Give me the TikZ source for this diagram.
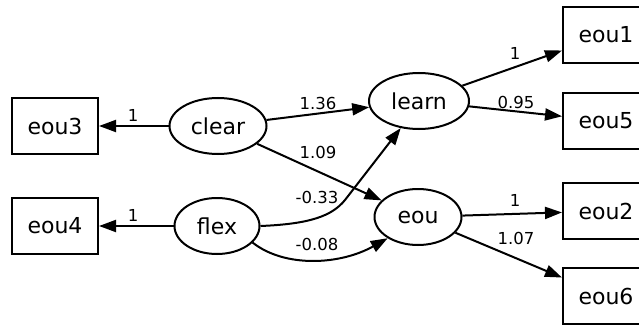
\documentclass[tikz,border=0pt]{standalone}
\usepackage{fontspec}
\setmainfont{DejaVu Sans}
\usetikzlibrary{shapes.geometric,arrows.meta}
\begin{document}
\begin{tikzpicture}[x=1pt,y=-1pt,
 every node/.style={font=\fontsize{22}{24}\selectfont},
 obs/.style={draw, line width=2pt, rectangle, minimum width=86pt, minimum height=56pt, inner sep=0pt},
 lat/.style={draw, line width=2pt, ellipse, minimum height=56pt, inner sep=0pt},
 conn/.style={line width=2pt, -{Triangle[length=17pt,width=12pt]}},
 lbl/.style={font=\fontsize{16.5}{18}\selectfont, inner sep=0pt}]
\useasboundingbox (0,0) rectangle (639,326);
\clip (0,0) rectangle (639,326);
% nodes
\node[obs] (eou3) at (55,126) {eou3};
\node[obs] (eou4) at (55,226) {eou4};
\node[lat, minimum width=97pt] (clear) at (218,126) {clear};
\node[lat, minimum width=85pt] (flex) at (217,226) {flex};
\node[lat, minimum width=100pt] (learn) at (419,101) {learn};
\node[lat, minimum width=87pt] (eou) at (418,217) {eou};
\node[obs] (eou1) at (606,35) {eou1};
\node[obs] (eou5) at (606,121) {eou5};
\node[obs] (eou2) at (606,211) {eou2};
\node[obs] (eou6) at (606,296) {eou6};
% connectors
\draw[conn] (clear) -- (eou3);
\draw[conn] (flex) -- (eou4);
\draw[conn] (clear) -- (learn);
\draw[conn] (clear) -- (eou);
\draw[conn] (flex.east) .. controls (310,224) and (332,216) .. (345,200) -- (learn.236);
\draw[conn] (flex.-25) .. controls (285,268) and (340,265) .. (eou.215);
\draw[conn] (learn) -- (eou1);
\draw[conn] (learn) -- (eou5);
\draw[conn] (eou) -- (eou2);
\draw[conn] (eou) -- (eou6);
% labels
\node[lbl] (l3) at (133,115) {1};
\node[lbl] (l4) at (133,215) {1};
\node[lbl] (lcl) at (318,103) {1.36};
\node[lbl] (lce) at (318,152) {1.09};
\node[lbl] (lfl) at (317,197) {-0.33};
\node[lbl] (lfe) at (317,244) {-0.08};
\node[lbl] (l1) at (515,53) {1};
\node[lbl] (l5) at (516,102) {0.95};
\node[lbl] (l2) at (515,200) {1};
\node[lbl] (l6) at (516,238) {1.07};
\end{tikzpicture}
\end{document}
